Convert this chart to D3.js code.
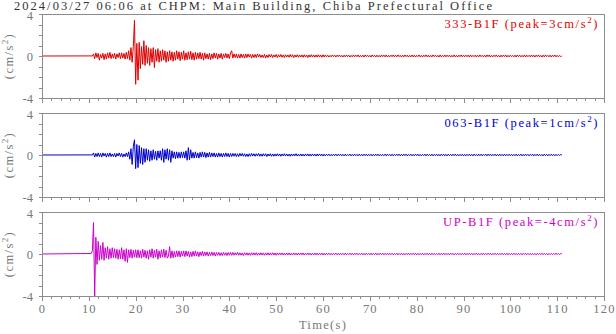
<!DOCTYPE html>
<html><head><meta charset="utf-8">
<script src="https://cdn.jsdelivr.net/npm/d3@7"></script>
<style>body{margin:0;background:#fff}svg{display:block}</style>
</head><body>
<script>
const titleText = "2024/03/27 06:06 at CHPM: Main Building, Chiba Prefectural Office";
const channels = ["333-B1F", "063-B1F", "UP-B1F"];
const peaks = ["3", "1", "-4"];
const xTickValues = [0,10,20,30,40,50,60,70,80,90,100,110,120];
const yTickLabels = [-4, 0, 4];
const xLabel = "Time(s)";
const yLabel = "(cm/s";
// records: flat (0) from t=0 to the first sample; samples every 0.25 s from 10.5 s
const startTime = 10.5, sampleStep = 0.25;

const ch333 = [
0.01,-0.01,0.2,-0.25,0.3,-0.15,0.25,-0.4,0.15,-0.2,0.25,-0.35,0.2,-0.3,0.3,-0.2,0.35,-0.25,0.2,-0.2,
0.25,-0.3,0.2,-0.15,0.3,-0.25,0.3,-0.2,0.25,-0.3,0.35,-0.25,0.5,-0.4,0.8,-0.6,0.9,3.4,-2.7,1.2,
-2.3,1.3,-1.2,0.9,-0.8,1.45,-0.9,1.0,-0.7,0.8,-0.9,0.7,-0.6,0.8,-1.1,0.6,-0.5,0.7,-0.6,0.5,
-0.5,0.6,-0.4,0.5,-0.6,0.4,-0.5,0.5,-0.4,0.4,-0.5,0.35,-0.4,0.5,-0.3,0.4,-0.45,0.35,-0.3,0.5,
-0.4,0.3,-0.35,0.4,-0.3,0.45,-0.35,0.3,-0.4,0.35,-0.3,0.3,-0.25,0.35,-0.3,0.25,-0.4,0.3,-0.25,0.2,
-0.3,0.25,-0.35,0.2,-0.25,0.3,-0.2,0.25,-0.3,0.2,-0.2,0.25,-0.3,0.2,-0.15,0.25,-0.2,0.2,-0.25,0.3,
0.5,-0.2,0.2,-0.15,0.2,-0.2,0.15,-0.2,0.2,-0.15,0.15,-0.2,0.2,-0.15,0.2,-0.1,0.15,-0.2,0.15,-0.15,
0.15,-0.15,0.2,-0.1,0.15,-0.15,0.1,-0.15,0.15,-0.2,0.1,-0.15,0.15,-0.1,0.15,-0.15,0.1,-0.1,0.15,-0.15,
0.12,-0.1,0.15,-0.12,0.1,-0.15,0.12,-0.1,0.1,-0.12,0.15,-0.1,0.12,-0.15,0.1,-0.1,0.12,-0.12,0.1,-0.1,
0.1,-0.12,0.12,-0.1,0.1,-0.15,0.1,-0.1,0.12,-0.1,0.1,-0.12,0.1,-0.1,0.12,-0.1,0.1,-0.12,0.12,-0.1,
0.1,-0.08,0.08,-0.1,0.06,-0.08,0.1,-0.06,0.08,-0.1,0.08,-0.06,0.1,-0.08,0.06,-0.1,0.08,-0.08,0.1,-0.06,
0.08,-0.1,0.06,-0.08,0.1,-0.08,0.08,-0.06,0.1,-0.1,0.06,-0.08,0.08,-0.1,0.1,-0.06,0.08,-0.08,0.06,-0.1,
0.1,-0.06,0.08,-0.1,0.08,-0.08,0.06,-0.1,0.1,-0.06,0.08,-0.08,0.1,-0.1,0.06,-0.08,0.08,-0.06,0.1,-0.08,
0.08,-0.08,0.1,-0.06,0.06,-0.1,0.08,-0.08,0.1,-0.06,0.08,-0.1,0.06,-0.08,0.1,-0.08,0.08,-0.1,0.06,-0.06,
0.1,-0.08,0.06,-0.1,0.08,-0.06,0.1,-0.08,0.08,-0.1,0.06,-0.08,0.1,-0.06,0.08,-0.08,0.06,-0.1,0.1,-0.08,
0.06,-0.08,0.1,-0.08,0.08,-0.06,0.08,-0.1,0.06,-0.08,0.1,-0.08,0.06,-0.1,0.08,-0.06,0.1,-0.08,0.08,-0.08,
0.08,-0.06,0.08,-0.1,0.1,-0.08,0.06,-0.06,0.08,-0.1,0.08,-0.08,0.1,-0.06,0.06,-0.08,0.08,-0.1,0.1,-0.06,
0.1,-0.1,0.06,-0.08,0.08,-0.06,0.1,-0.08,0.06,-0.1,0.08,-0.08,0.08,-0.06,0.1,-0.1,0.06,-0.08,0.08,-0.06,
0.06,-0.08,0.08,-0.1,0.1,-0.06,0.08,-0.08,0.06,-0.08,0.1,-0.1,0.08,-0.06,0.06,-0.08,0.1,-0.08,0.08,-0.1,
0.08,-0.06,0.1,-0.08,0.06,-0.1,0.08,-0.08,0.1,-0.06,0.06,-0.08,0.08,-0.1,0.08,-0.06,0.1,-0.08,0.06,-0.08,
0.05,-0.05,0
];

const ch063 = [
0.01,-0.01,0.2,-0.2,0.15,-0.15,0.2,-0.15,0.15,-0.2,0.2,-0.1,0.15,-0.2,0.15,-0.15,0.2,-0.15,0.1,-0.15,
0.15,-0.2,0.15,-0.1,0.2,-0.15,0.15,-0.2,0.1,-0.15,0.2,-0.15,0.3,-0.4,0.6,-0.9,0.8,1.45,-1.3,1.0,
-1.2,0.9,-0.8,0.7,-0.9,0.6,-0.7,0.6,-0.5,0.5,-0.6,0.4,-0.5,0.5,-0.4,0.35,-0.5,0.4,-0.3,0.4,
-0.5,0.6,-0.7,0.5,-0.4,0.6,-0.5,0.5,-0.7,0.4,-0.3,0.3,-0.35,0.3,-0.3,0.25,-0.3,0.3,-0.25,0.3,
-0.3,0.4,-0.5,0.7,-0.45,0.5,-0.3,0.25,-0.3,0.3,-0.25,0.2,-0.3,0.25,-0.2,0.3,-0.2,0.25,-0.25,0.2,
-0.2,0.25,-0.2,0.2,-0.15,0.2,-0.2,0.15,-0.2,0.2,-0.15,0.15,-0.2,0.15,-0.15,0.2,-0.15,0.15,-0.2,0.15,
-0.15,0.15,-0.12,0.15,-0.15,0.12,-0.15,0.15,-0.1,0.15,-0.12,0.12,-0.15,0.1,-0.15,0.12,-0.12,0.15,-0.1,0.12,
-0.12,0.12,-0.1,0.15,-0.12,0.1,-0.12,0.12,-0.1,0.12,-0.15,0.1,-0.1,0.12,-0.12,0.1,-0.12,0.1,-0.1,0.12,
-0.1,0.1,-0.12,0.1,-0.08,0.12,-0.1,0.1,-0.1,0.08,-0.12,0.1,-0.1,0.1,-0.08,0.12,-0.1,0.08,-0.1,0.1,
-0.1,0.08,-0.1,0.1,-0.08,0.1,-0.1,0.08,-0.1,0.1,-0.08,0.08,-0.1,0.1,-0.08,0.1,-0.08,0.08,-0.1,0.08,
-0.08,0.08,-0.06,0.08,-0.08,0.06,-0.08,0.08,-0.06,0.08,-0.08,0.08,-0.06,0.08,-0.08,0.06,-0.08,0.08,-0.08,0.06,
-0.06,0.08,-0.08,0.06,-0.08,0.08,-0.06,0.06,-0.08,0.08,-0.08,0.06,-0.08,0.08,-0.06,0.08,-0.08,0.06,-0.06,0.08,
-0.08,0.06,-0.08,0.08,-0.06,0.08,-0.08,0.06,-0.08,0.06,-0.06,0.08,-0.08,0.08,-0.06,0.06,-0.08,0.08,-0.08,0.06,
-0.06,0.08,-0.06,0.08,-0.08,0.06,-0.08,0.08,-0.06,0.08,-0.08,0.06,-0.06,0.08,-0.08,0.06,-0.08,0.08,-0.06,0.08,
-0.08,0.06,-0.08,0.06,-0.06,0.08,-0.08,0.08,-0.06,0.06,-0.08,0.08,-0.08,0.06,-0.06,0.08,-0.08,0.06,-0.08,0.08,
-0.06,0.08,-0.08,0.06,-0.08,0.08,-0.06,0.06,-0.08,0.08,-0.06,0.08,-0.08,0.06,-0.08,0.06,-0.06,0.08,-0.08,0.06,
-0.08,0.06,-0.06,0.08,-0.08,0.06,-0.08,0.08,-0.06,0.06,-0.08,0.08,-0.06,0.08,-0.08,0.06,-0.06,0.08,-0.08,0.08,
-0.06,0.08,-0.08,0.06,-0.06,0.08,-0.08,0.06,-0.08,0.08,-0.06,0.06,-0.08,0.08,-0.08,0.06,-0.06,0.08,-0.06,0.06,
-0.08,0.06,-0.06,0.08,-0.08,0.06,-0.06,0.08,-0.08,0.06,-0.08,0.08,-0.06,0.06,-0.08,0.06,-0.06,0.08,-0.08,0.06,
-0.06,0.08,-0.08,0.06,-0.06,0.06,-0.08,0.08,-0.06,0.06,-0.08,0.06,-0.06,0.08,-0.06,0.06,-0.08,0.06,-0.06,0.06,
-0.04,0.04,0
];

const chUP = [
0.05,0.3,3.0,-4.0,1.6,-1.0,1.2,-0.6,0.8,-0.5,1.1,-0.6,0.6,-0.4,0.7,-0.5,0.5,-0.4,0.6,-0.35,
0.5,-0.4,0.45,-0.5,0.4,-0.45,0.6,-0.5,0.4,-0.7,0.5,-0.8,0.4,-0.35,0.45,-0.4,0.35,-0.3,0.4,-0.35,
0.4,-0.35,0.3,-0.4,0.45,-0.3,0.35,-0.4,0.3,-0.5,0.4,-0.3,0.5,-0.4,0.35,-0.3,0.45,-0.5,0.3,-0.35,
0.4,-0.3,0.45,-0.35,0.35,-0.4,-0.2,0.7,-0.4,0.3,-0.35,0.25,-0.3,0.3,-0.25,0.3,-0.3,0.25,-0.2,0.3,
-0.25,0.3,-0.2,0.25,-0.3,0.2,-0.25,0.25,-0.2,0.3,-0.2,0.2,-0.25,0.2,-0.15,0.25,-0.2,0.2,-0.15,0.2,
-0.2,0.15,-0.15,0.2,-0.15,0.15,-0.2,0.15,-0.12,0.15,-0.15,0.12,-0.15,0.15,-0.12,0.12,-0.15,0.15,-0.12,0.15,
-0.12,0.15,-0.12,0.12,-0.1,0.15,-0.12,0.12,-0.12,0.1,-0.15,0.12,-0.1,0.12,-0.12,0.1,-0.12,0.12,-0.1,0.12,
-0.1,0.12,-0.12,0.1,-0.1,0.12,-0.1,0.1,-0.12,0.1,-0.1,0.12,-0.1,0.1,-0.1,0.12,-0.1,0.1,-0.12,0.1,
-0.1,0.1,-0.08,0.1,-0.1,0.08,-0.1,0.1,-0.08,0.1,-0.1,0.08,-0.1,0.1,-0.08,0.08,-0.1,0.1,-0.08,0.1,
-0.08,0.1,-0.1,0.08,-0.08,0.1,-0.08,0.08,-0.1,0.08,-0.08,0.1,-0.08,0.08,-0.1,0.08,-0.08,0.08,-0.1,0.08,
-0.08,0.08,-0.06,0.08,-0.08,0.06,-0.08,0.08,-0.06,0.08,-0.08,0.06,-0.08,0.08,-0.06,0.06,-0.08,0.08,-0.08,0.06,
-0.06,0.08,-0.08,0.06,-0.08,0.08,-0.06,0.08,-0.08,0.06,-0.06,0.08,-0.08,0.06,-0.08,0.08,-0.06,0.06,-0.08,0.08,
-0.08,0.06,-0.06,0.08,-0.08,0.06,-0.08,0.08,-0.06,0.08,-0.08,0.06,-0.06,0.08,-0.08,0.08,-0.06,0.06,-0.08,0.06,
-0.06,0.08,-0.08,0.06,-0.06,0.08,-0.08,0.06,-0.08,0.06,-0.06,0.08,-0.08,0.06,-0.06,0.08,-0.06,0.08,-0.08,0.06,
-0.08,0.06,-0.06,0.08,-0.08,0.06,-0.06,0.08,-0.08,0.06,-0.08,0.08,-0.06,0.06,-0.08,0.06,-0.06,0.08,-0.08,0.06,
-0.06,0.08,-0.08,0.06,-0.06,0.06,-0.08,0.08,-0.06,0.06,-0.08,0.06,-0.06,0.08,-0.06,0.06,-0.08,0.06,-0.06,0.08,
-0.08,0.06,-0.06,0.08,-0.06,0.06,-0.08,0.06,-0.06,0.08,-0.08,0.06,-0.06,0.06,-0.08,0.08,-0.06,0.06,-0.06,0.08,
-0.06,0.06,-0.08,0.06,-0.06,0.08,-0.06,0.06,-0.08,0.06,-0.06,0.08,-0.06,0.06,-0.06,0.08,-0.08,0.06,-0.06,0.06,
-0.06,0.08,-0.06,0.06,-0.08,0.06,-0.06,0.06,-0.08,0.06,-0.06,0.08,-0.06,0.06,-0.06,0.06,-0.08,0.06,-0.06,0.06,
-0.08,0.06,-0.06,0.06,-0.06,0.08,-0.06,0.06,-0.06,0.06,-0.08,0.06,-0.06,0.06,-0.06,0.06,-0.06,0.08,-0.06,0.06,
-0.04,0.04,0
];

const records = [ch333, ch063, chUP];
const lineColors = ["#dd0000", "#0000cc", "#cc00cc"];

const W = 616, H = 334;
const plotLeft = 42, plotRight = 604, panelH = 84, panelTops = [14, 113, 212];
const axisColor = "#8c8c8c", labelColor = "#777", font = "'Liberation Serif','Times New Roman',serif";

const svg = d3.select("body").append("svg").attr("width", W).attr("height", H)
  .style("font-family", font);

const x = d3.scaleLinear().domain([0, 120]).range([plotLeft, plotRight]);
const y = d3.scaleLinear().domain([-4, 4]).range([panelH, 0]);

function fitText(sel, target) {
  const n = sel.text().length;
  const w = sel.node().getComputedTextLength();
  sel.attr("letter-spacing", ((target - w) / n).toFixed(3));
}

const title = svg.append("text").attr("x", 14).attr("y", 9.5)
  .attr("font-size", 12.5).attr("fill", "#333").text(titleText);
fitText(title, 480);

const defs = svg.append("defs");
const line = d3.line().x(d => x(d[0])).y(d => y(d[1]));

records.forEach((vals, k) => {
  const top = panelTops[k];
  const g = svg.append("g").attr("transform", `translate(0,${top})`);
  defs.append("clipPath").attr("id", "clip" + k).append("rect")
    .attr("x", plotLeft).attr("y", 0).attr("width", plotRight - plotLeft).attr("height", panelH);

  const pts = [[0, 0]].concat(vals.map((v, i) => [startTime + i * sampleStep, v]));
  g.append("path").datum(pts).attr("d", line).attr("fill", "none")
    .attr("stroke", lineColors[k]).attr("stroke-width", 1).attr("clip-path", `url(#clip${k})`);

  // frame
  g.append("rect").attr("x", plotLeft).attr("y", 0).attr("width", plotRight - plotLeft)
    .attr("height", panelH).attr("fill", "none").attr("stroke", axisColor).attr("stroke-width", 1)
    .attr("shape-rendering", "crispEdges");

  // y axis
  const ya = g.append("g").attr("transform", `translate(${plotLeft},0)`)
    .call(d3.axisLeft(y).tickValues(d3.range(-4, 5)).tickSize(3).tickPadding(6)
      .tickFormat(d => yTickLabels.includes(d) ? d : ""));
  ya.select(".domain").remove();
  ya.selectAll("line").attr("stroke", axisColor).attr("shape-rendering", "crispEdges");
  ya.selectAll("text").attr("fill", labelColor).attr("font-size", 12.5).attr("font-family", font)
    .attr("dy", d => d === 4 ? "0.42em" : "0.32em");

  // x axis
  const xa = g.append("g").attr("transform", `translate(0,${panelH})`)
    .call(d3.axisBottom(x).tickValues(d3.range(0, 121, 2)).tickSize(3).tickPadding(5)
      .tickFormat(d => (k === 2 && xTickValues.includes(d)) ? d : ""));
  xa.select(".domain").remove();
  xa.selectAll(".tick line").attr("stroke", axisColor).attr("shape-rendering", "crispEdges")
    .attr("y2", d => xTickValues.includes(d) ? 5 : 3);
  xa.selectAll("text").attr("fill", labelColor).attr("font-size", 12.5).attr("font-family", font)
    .attr("letter-spacing", 1.2);

  // channel label
  const lab = g.append("text").attr("x", 599).attr("y", 14).attr("text-anchor", "end")
    .attr("font-size", 12.5).attr("fill", lineColors[k]).attr("letter-spacing", 1.6);
  lab.append("tspan").text(`${channels[k]} (peak=${peaks[k]}cm/s`);
  lab.append("tspan").attr("dy", -5).attr("font-size", 9).text("2");
  lab.append("tspan").attr("dy", 5).text(")");

  // y label
  const yl = g.append("text").attr("transform", `translate(13,${panelH / 2}) rotate(-90)`)
    .attr("text-anchor", "middle").attr("font-size", 12.5).attr("fill", labelColor)
    .attr("letter-spacing", 1.4);
  yl.append("tspan").text(yLabel);
  yl.append("tspan").attr("dy", -5).attr("font-size", 9).text("2");
  yl.append("tspan").attr("dy", 5).text(")");
});

svg.append("text").attr("x", (plotLeft + plotRight) / 2).attr("y", 329)
  .attr("text-anchor", "middle").attr("font-size", 12.5).attr("fill", labelColor)
  .attr("letter-spacing", 1.3).text(xLabel);
</script>
</body></html>
